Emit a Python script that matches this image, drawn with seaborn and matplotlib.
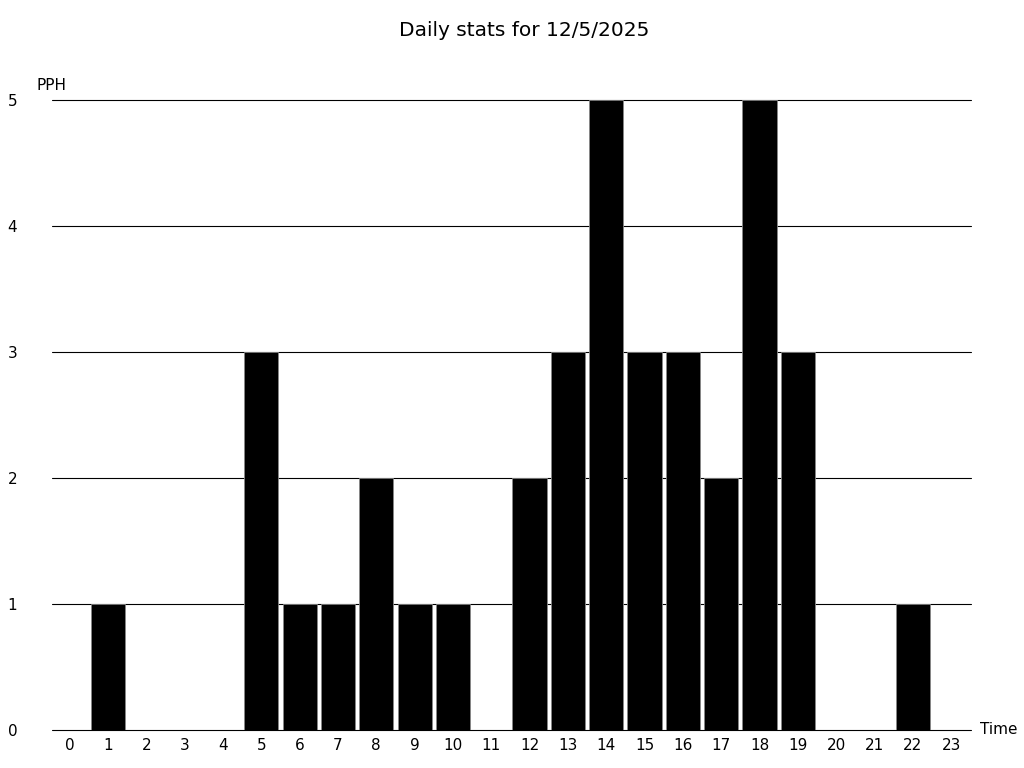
import pandas as pd
import matplotlib
matplotlib.use('Agg')
import matplotlib.pyplot as plt
import seaborn as sns

hours = list(range(24))
pph = [0, 1, 0, 0, 0, 3, 1, 1, 2, 1, 1, 0, 2, 3, 5, 3, 3, 2, 5, 3, 0, 0, 1, 0]
title = 'Daily stats for 12/5/2025'

df = pd.DataFrame({'hour': hours, 'pph': pph})

sns.set_style('white')
plt.rcParams['font.family'] = ['DejaVu Sans']
plt.rcParams['text.color'] = 'black'
plt.rcParams['xtick.color'] = 'black'
plt.rcParams['ytick.color'] = 'black'

fig = plt.figure(figsize=(10.24, 7.68), dpi=100)
ax = fig.add_axes([0.0508, 0.0495, 0.8975, 0.8203])

sns.barplot(data=df, x='hour', y='pph', color='black', width=0.89,
            edgecolor='#888888', linewidth=0.6, saturation=1, ax=ax, zorder=3)

ax.set_ylim(0, 5)
ax.set_xlim(-0.46, 23.52)
ax.set_yticks(range(6))
ax.yaxis.grid(True, color='black', linewidth=0.8)
for gl in ax.get_ygridlines():
    gl.set_clip_on(False)
ax.set_axisbelow(True)
for s in ax.spines.values():
    s.set_visible(False)
ax.tick_params(axis='both', length=0, labelsize=11)
ax.tick_params(axis='y', pad=25)
ax.tick_params(axis='x', pad=6)
ax.set_xlabel('')
ax.set_ylabel('')

fig.text(37 / 1024, 1 - 85 / 768, 'PPH', fontsize=11, va='center', ha='left')
fig.text(980 / 1024, 1 - 730 / 768, 'Time', fontsize=11, va='center', ha='left')
fig.text(524 / 1024, 1 - 31 / 768, title, fontsize=14.5, va='center', ha='center')

fig.savefig('out.png', dpi=100)
plt.close(fig)
